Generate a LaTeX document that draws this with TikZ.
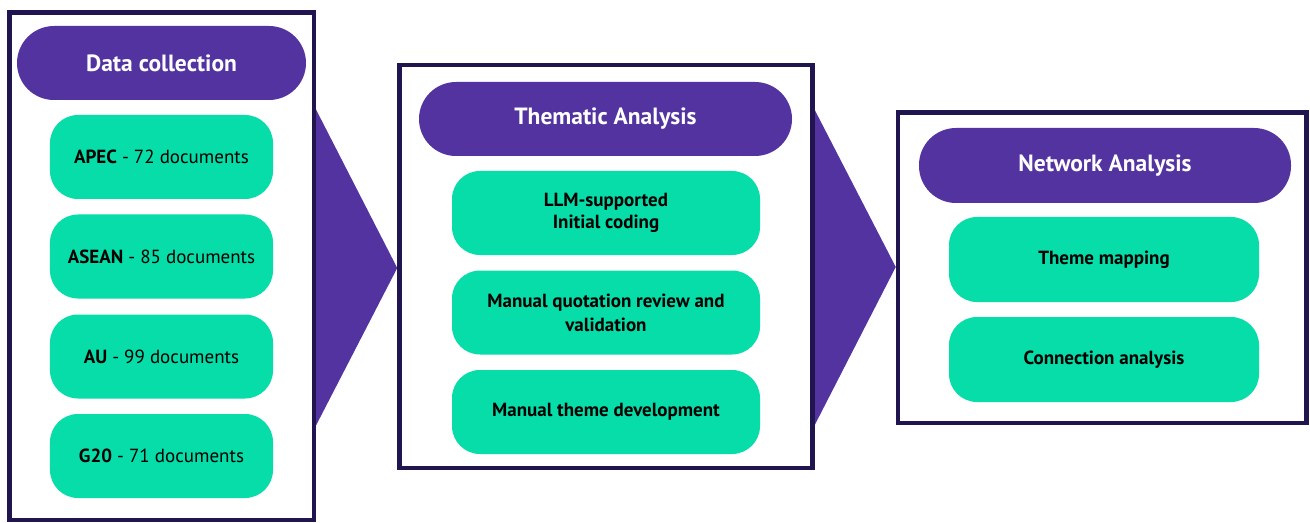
\documentclass[tikz,border=0pt]{standalone}
\usepackage{fontspec}
\setmainfont{PT Sans}
\usetikzlibrary{backgrounds}
\definecolor{purp}{HTML}{5233A0}
\definecolor{grn}{HTML}{06DDA8}
\definecolor{frame}{HTML}{21154F}
\tikzset{
  stage/.style={draw=frame, line width=4.5bp, fill=white, inner sep=0pt},
  header/.style={fill=purp, rounded corners=37bp, minimum height=74bp, text=white, font=\fontsize{23.5bp}{28bp}\selectfont\bfseries, inner sep=0pt},
  item/.style={fill=grn, rounded corners=28bp, minimum height=84bp, text=black, font=\fontsize{19bp}{22bp}\selectfont, align=center, inner sep=0pt},
  bolditem/.style={item, font=\fontsize{19bp}{22bp}\selectfont\bfseries},
  chev/.style={fill=purp, draw=none}
}
\begin{document}
\begin{tikzpicture}[x=1bp,y=-1bp]
\useasboundingbox (0,0) rectangle (1310,523);
% stage frames
\node[stage, minimum width=304.5bp, minimum height=507.5bp] (box1) at (161.75,266.25) {};
\node[stage, minimum width=413bp, minimum height=403bp] (box2) at (606,266.5) {};
\node[stage, minimum width=408.5bp, minimum height=310.5bp] (box3) at (1102.25,267.75) {};
% headers
\node[header, minimum width=289bp] (h1) at (161.5,63) {Data collection};
\node[header, minimum width=373bp] (h2) at (605.5,119) {Thematic Analysis};
\node[header, minimum width=372bp, minimum height=75bp] (h3) at (1105,165.5) {Network Analysis};
% column 1
\node[item, minimum width=223bp] (apec) at (161.5,157) {\textbf{APEC} - 72 documents};
\node[item, minimum width=223bp] (asean) at (161.5,256.5) {\textbf{ASEAN} - 85 documents};
\node[item, minimum width=223bp] (au) at (161.5,356.5) {\textbf{AU} - 99 documents};
\node[item, minimum width=223bp] (g20) at (161.5,456) {\textbf{G20} - 71 documents};
% column 2
\node[bolditem, minimum width=308bp] (llm) at (606,213) {LLM-supported\\Initial coding};
\node[bolditem, minimum width=308bp, font=\fontsize{19bp}{24bp}\selectfont\bfseries] (manq) at (606,312.5) {Manual quotation review and\\validation};
\node[bolditem, minimum width=308bp] (mant) at (606,412) {Manual theme development};
% column 3
\node[bolditem, minimum width=310bp, minimum height=85bp] (theme) at (1104,259.5) {Theme mapping};
\node[bolditem, minimum width=310bp, minimum height=85bp] (conn) at (1104,359.5) {Connection analysis};
% chevrons between stages
\begin{scope}[on background layer]
\fill[chev] (box1.center |- 0,110) -- (box1.east |- 0,110) -- (box2.west |- 0,268) -- (box1.east |- 0,425) -- (box1.center |- 0,425) -- cycle;
\fill[chev] (box2.center |- 0,110) -- (box2.east |- 0,110) -- (box3.west |- 0,267) -- (box2.east |- 0,425) -- (box2.center |- 0,425) -- cycle;
\end{scope}
\end{tikzpicture}
\end{document}
